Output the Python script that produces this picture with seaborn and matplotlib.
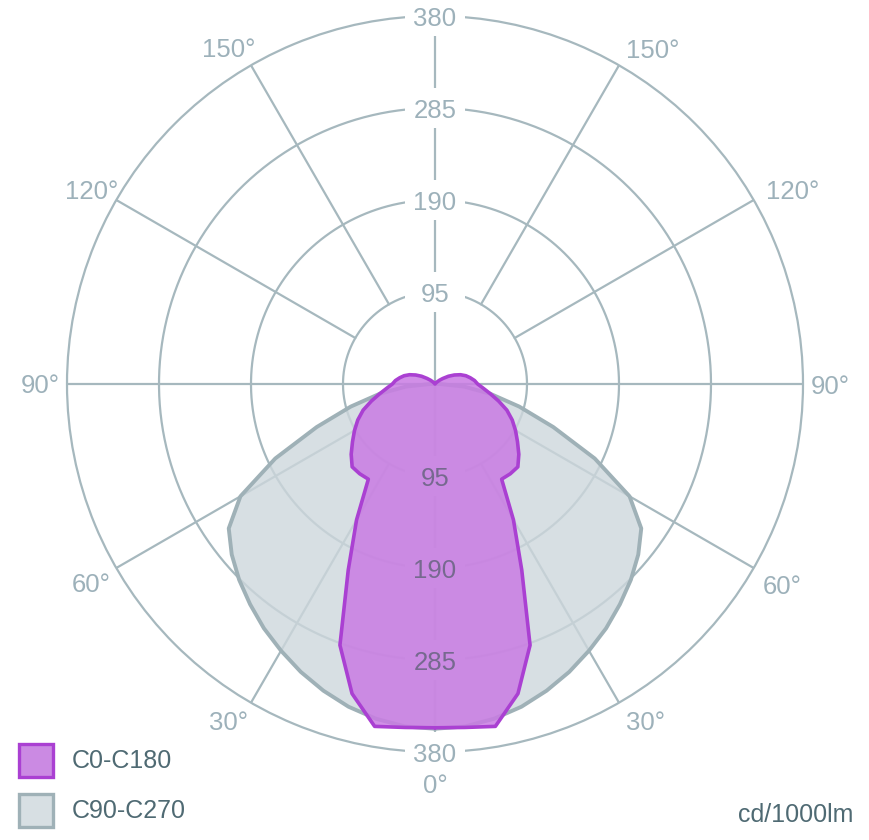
import numpy as np
import pandas as pd
import matplotlib
matplotlib.use("Agg")
import matplotlib.pyplot as plt
import matplotlib.colors as mcolors
import seaborn as sns
from matplotlib.patches import Rectangle
from matplotlib.transforms import Affine2D

# Luminous intensity (cd/1000lm) per gamma angle
gamma = list(range(0, 185, 5))
c0_c180 = [355, 356, 359, 331, 287, 212, 162, 120, 121, 121, 113, 104, 96,
           88, 79, 68, 58, 50, 44, 41, 37, 33, 28, 22, 16, 10, 6, 3, 1,
           0, 0, 0, 0, 0, 0, 0, 0]
c90_c270 = [356, 355, 351, 345, 337, 328, 318, 308, 297, 286, 274, 260, 232,
            182, 130, 90, 58, 30, 5, 0, 0, 0, 0, 0, 0, 0, 0, 0, 0,
            0, 0, 0, 0, 0, 0, 0, 0]
ring_values = [95, 190, 285, 380]
angle_ticks = [30, 60, 90, 120, 150]
series_names = ["C0-C180", "C90-C270"]
unit_label = "cd/1000lm"

grid_c = "#a6b8be"
tick_c = "#9db1ba"
text_c = "#4f6a73"
purple_edge = "#aa40d2"
purple_fill = "#c97be3"
grey_edge = "#9fb1b7"
grey_fill = "#cdd7dc"
fill_alpha = 0.8

sns.set_style("white")
plt.rcParams["font.family"] = ["Liberation Sans", "DejaVu Sans"]


def mirrored(values):
    g = np.array(gamma, dtype=float)
    theta = np.deg2rad(np.r_[g, 360 - g[::-1]])
    r = np.r_[values, values[::-1]]
    return theta, r


frames = []
for name, vals in zip(series_names, [c0_c180, c90_c270]):
    th, r = mirrored(vals)
    frames.append(pd.DataFrame({"theta": th, "value": r, "series": name}))
df = pd.concat(frames, ignore_index=True)

fig = plt.figure(figsize=(8.7, 8.4), dpi=100)
ax = fig.add_axes([67 / 870, 88 / 840, 736 / 870, 736 / 840], projection="polar")
ax.set_theta_zero_location("S")
ax.grid(False)
ax.spines["polar"].set_color(grid_c)
ax.spines["polar"].set_linewidth(1.6)
ax.spines["polar"].set_zorder(1)

# grid: rings and spokes
circ = np.linspace(0, 2 * np.pi, 400)
for v in ring_values[:-1]:
    ax.plot(circ, np.full_like(circ, v), color=grid_c, lw=1.6, zorder=1)
for a in [30, 60, 120, 150, 210, 240, 300, 330]:
    ax.plot([np.deg2rad(a)] * 2, [ring_values[0], ring_values[-1]], color=grid_c, lw=1.6, zorder=1)
for a in [0, 90, 180, 270]:
    ax.plot([np.deg2rad(a)] * 2, [0, ring_values[-1]], color=grid_c, lw=1.6, zorder=1)

# curves: grey first, purple on top
grey = df[df["series"] == "C90-C270"]
purp = df[df["series"] == "C0-C180"]
ax.fill(grey["theta"], grey["value"], facecolor=grey_fill, alpha=fill_alpha, lw=0, zorder=2)
sns.lineplot(data=grey, x="theta", y="value", sort=False, estimator=None,
             color=grey_edge, lw=2.8, ax=ax, zorder=2.5)
ax.fill(purp["theta"], purp["value"], facecolor=purple_fill, alpha=0.85, lw=0, zorder=3)
sns.lineplot(data=purp, x="theta", y="value", sort=False, estimator=None,
             color=purple_edge, lw=2.6, ax=ax, zorder=3.5)

ax.set_xlabel("")
ax.set_ylabel("")
ax.set_xticks([])
ax.set_yticks([])
ax.set_ylim(0, ring_values[-1])

# composite colours for the label masks
w = np.array([1.0, 1.0, 1.0])
g_comp = fill_alpha * np.array(mcolors.to_rgb(grey_fill)) + (1 - fill_alpha) * w
p_comp = 0.85 * np.array(mcolors.to_rgb(purple_fill)) + 0.15 * g_comp


def mask(theta, r, color):
    x, y = ax.transData.transform((theta, r))
    ax.add_patch(Rectangle((-30, -20), 60, 40, facecolor=color, edgecolor="none",
                           transform=Affine2D().translate(x, y), zorder=4, clip_on=False))


fs = 18.5
for v in ring_values:
    mask(np.pi, v, "white")
    ax.text(np.pi, v, str(v), ha="center", va="center_baseline", fontsize=fs,
            color=tick_c, zorder=5)
    inside = v < ring_values[-1]
    mask(0, v, p_comp if inside else "white")
    ax.text(0, v, str(v), ha="center", va="center_baseline", fontsize=fs,
            color="#76698f" if inside else tick_c, zorder=5)

# angle labels sit just outside the rim (slightly wider on the right side)
left_pos = {30: (31.5, 408), 60: (60, 410), 90: (90, 408), 120: (119.5, 407), 150: (148.5, 408)}
right_pos = {30: (32, 410), 60: (60, 414), 90: (90, 408), 120: (118.5, 420), 150: (147, 413)}
for a in angle_ticks:
    la, lr = left_pos[a]
    ra, rr = right_pos[a]
    ax.text(np.deg2rad(360 - la), lr, f"{a}°", ha="center", va="center_baseline",
            fontsize=fs, color=tick_c, clip_on=False)
    ax.text(np.deg2rad(ra), rr, f"{a}°", ha="center", va="center_baseline",
            fontsize=fs, color=tick_c, clip_on=False)
ax.text(0, 413, "0°", ha="center", va="center_baseline", fontsize=fs,
        color=tick_c, clip_on=False)

# legend
for i, (fc, ec) in enumerate([(mcolors.to_hex(p_comp), purple_edge), (mcolors.to_hex(g_comp), grey_edge)]):
    ytop = 742 + i * 50
    fig.patches.append(Rectangle((19.5 / 870, 1 - (ytop + 34.5) / 840), 34 / 870, 33 / 840,
                                 transform=fig.transFigure, facecolor=fc, edgecolor=ec, lw=2.4))
    fig.text(72 / 870, 1 - (ytop + 17) / 840, series_names[i], ha="left",
             va="center_baseline", fontsize=18, color=text_c)
fig.text(853 / 870, 1 - 812 / 840, unit_label, ha="right", va="center_baseline",
         fontsize=18, color=text_c)

fig.savefig("out.png", dpi=100)
